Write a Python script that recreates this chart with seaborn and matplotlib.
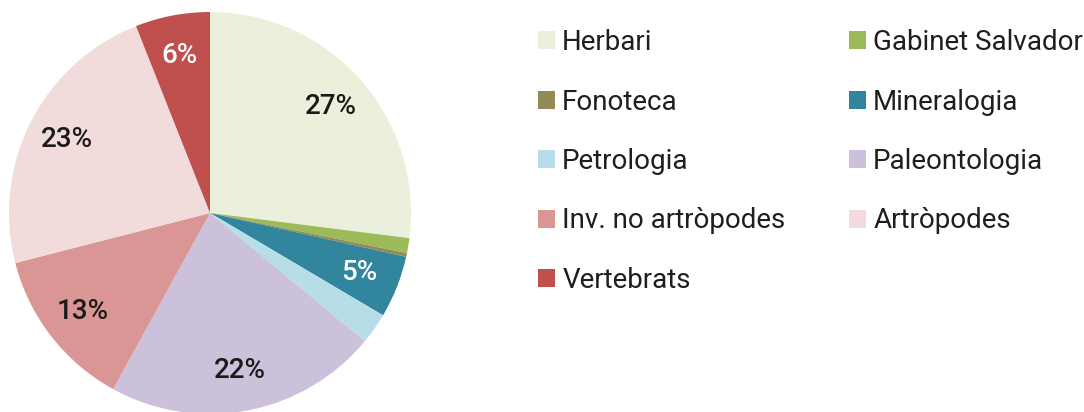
import matplotlib
matplotlib.use("Agg")
import matplotlib.pyplot as plt
from matplotlib.patches import Patch
import seaborn as sns

categories = ["Herbari", "Gabinet Salvador", "Fonoteca", "Mineralogia", "Petrologia",
              "Paleontologia", "Inv. no artròpodes", "Artròpodes", "Vertebrats"]
shares = [27, 1.2, 0.3, 5, 2.5, 22, 13, 23, 6]
colors = ["#ebf0dd", "#9bbb59", "#948a54", "#31859c", "#b7dee8",
          "#ccc1da", "#d99694", "#f2dcdb", "#c0504d"]
label_colors = ["#1a1a1a", "#1a1a1a", "#1a1a1a", "white", "#1a1a1a",
                "#1a1a1a", "#1a1a1a", "#1a1a1a", "white"]

sns.set_theme(style="white")
plt.rcParams["font.family"] = ["Roboto", "DejaVu Sans"]

fig = plt.figure(figsize=(10.84, 4.12), dpi=100)
ax = fig.add_axes([9 / 1084, -2 / 412, 402 / 1084, 402 / 412])

wedges, texts, autotexts = ax.pie(
    shares, colors=colors, startangle=90, counterclock=False,
    autopct=lambda p: f"{round(p)}%" if p >= 4.5 else "",
    pctdistance=0.8, wedgeprops=dict(linewidth=0),
    textprops=dict(fontsize=20, fontweight="medium"),
)
for t, c in zip(autotexts, label_colors):
    t.set_color(c)
ax.set_xlim(-1, 1)
ax.set_ylim(-1, 1)
ax.set_aspect("equal")

# two legends, one per column, so rows read left to right like the original
leg_kw = dict(loc="upper left", frameon=False, fontsize=20, borderpad=0,
              borderaxespad=0, handlelength=0.62, handleheight=0.62,
              handletextpad=0.25, labelspacing=1.17, labelcolor="#1e1e1e")
col1 = [0, 2, 4, 6, 8]
col2 = [1, 3, 5, 7]
fig.legend([Patch(facecolor=colors[i], edgecolor="none") for i in col1],
           [categories[i] for i in col1],
           bbox_to_anchor=(538 / 1084, 1 - 29 / 412), **leg_kw)
fig.legend([Patch(facecolor=colors[i], edgecolor="none") for i in col2],
           [categories[i] for i in col2],
           bbox_to_anchor=(849 / 1084, 1 - 29 / 412), **leg_kw)

plt.savefig("out.png", dpi=100)
